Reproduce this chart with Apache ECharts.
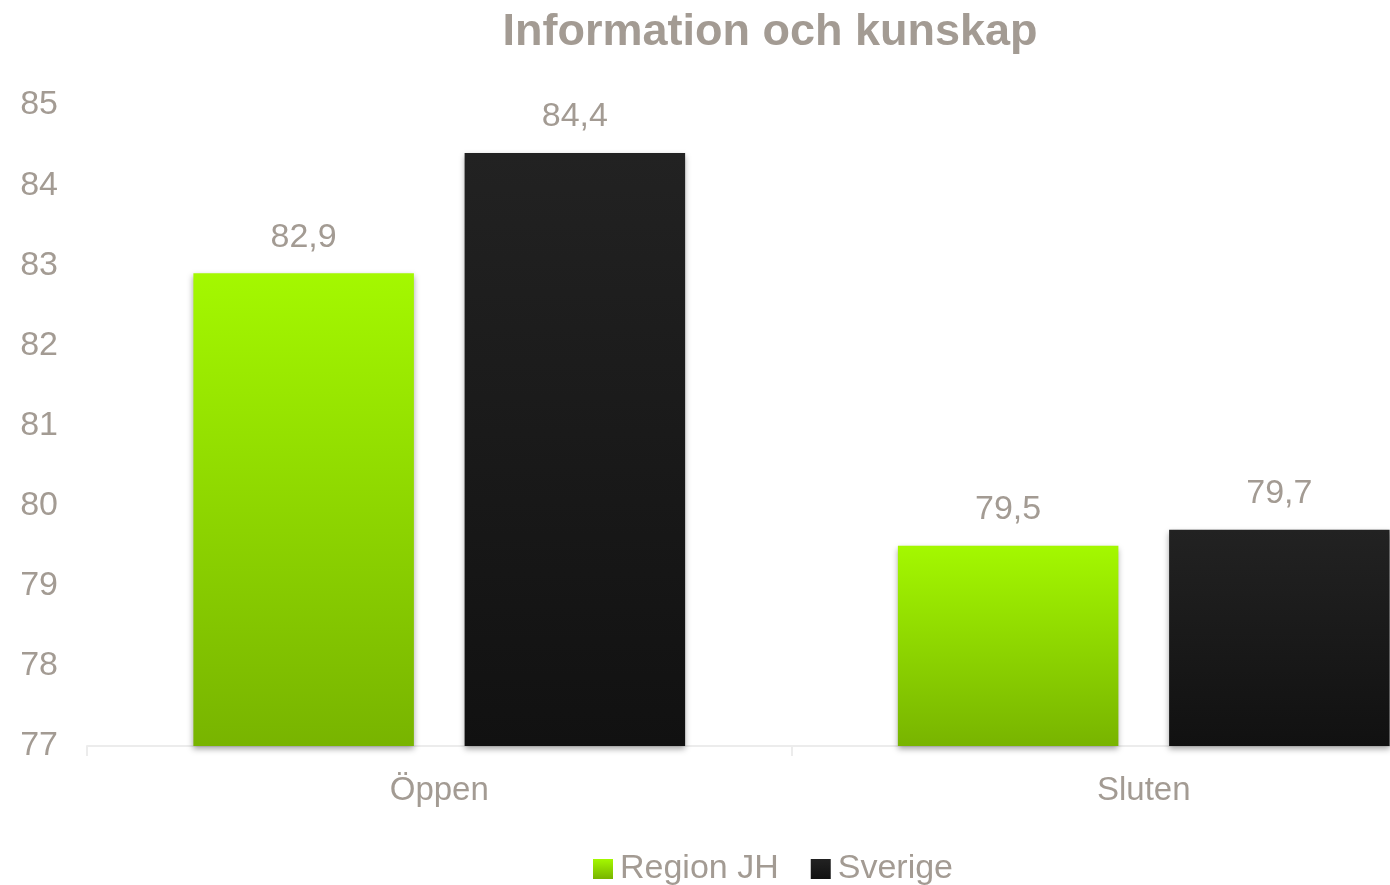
<!DOCTYPE html>
<html lang="sv">
	<head>
		<meta charset="utf-8">
		<title>Information och kunskap</title>
		<style>
			html, body { margin: 0; padding: 0; background: #fff; }
			#chart { width: 1390px; height: 885px; }
		</style>
	</head>
	<body>
		<div id="chart"></div>
		<script src="https://cdn.jsdelivr.net/npm/echarts@6/dist/echarts.min.js"></script>
		<script>
			// data
			var categories = ['Öppen', 'Sluten'];
			var regionJH = [82.9, 79.5];
			var sverige = [84.4, 79.7];
			var seriesNames = ['Region JH', 'Sverige'];

			var textColor = '#a39b93';

			var greenFill = new echarts.graphic.LinearGradient(0, 0, 0, 1, [
				{offset: 0, color: '#a4f800'},
				{offset: 1, color: '#78b400'}
			]);
			var blackFill = new echarts.graphic.LinearGradient(0, 0, 0, 1, [
				{offset: 0, color: '#222222'},
				{offset: 1, color: '#111111'}
			]);

			function commaLabel(p) {
				return String(p.value).replace('.', ',');
			}

			function barSeries(name, data, fill) {
				return {
					name: name,
					type: 'bar',
					data: data,
					barWidth: '31.3%',
					barGap: '23%',
					itemStyle: {
						color: fill,
						shadowColor: 'rgba(0,0,0,0.35)',
						shadowBlur: 6,
						shadowOffsetY: 3
					},
					label: {
						show: true,
						position: 'top',
						distance: 19,
						formatter: commaLabel,
						color: textColor,
						fontSize: 34,
						fontFamily: 'Liberation Sans'
					}
				};
			}

			var option = {
				animation: false,
				textStyle: { fontFamily: 'Liberation Sans' },
				title: {
					text: 'Information och kunskap',
					left: 765,
					textAlign: 'center',
					top: 5,
					textStyle: {
						color: textColor,
						fontSize: 45,
						fontWeight: 'bold',
						fontFamily: 'Liberation Sans'
					}
				},
				legend: {
					bottom: -6,
					left: 588,
					itemWidth: 20,
					itemHeight: 20,
					itemGap: 32,
					textStyle: {
						color: textColor,
						fontSize: 34,
						padding: [0, 0, 0, 2]
					},
					data: [
						{name: seriesNames[0], icon: 'rect'},
						{name: seriesNames[1], icon: 'rect'}
					]
				},
				grid: {
					left: 87,
					top: 105,
					bottom: 139,
					width: 1409,
					containLabel: false,
					outerBoundsMode: 'none'
				},
				xAxis: {
					type: 'category',
					data: categories,
					axisLine: { lineStyle: { color: '#ececec', width: 2 } },
					axisTick: { show: true, length: 10, lineStyle: { color: '#ececec', width: 2 } },
					axisLabel: { color: textColor, fontSize: 33, margin: 28 }
				},
				yAxis: {
					type: 'value',
					min: 77,
					max: 85,
					interval: 1,
					axisLine: { show: false },
					axisTick: { show: false },
					splitLine: { show: false },
					axisLabel: { color: textColor, fontSize: 34, margin: 29 }
				},
				series: [
					barSeries(seriesNames[0], regionJH, greenFill),
					barSeries(seriesNames[1], sverige, blackFill)
				]
			};

			var myChart = echarts.init(document.getElementById('chart'));
			myChart.setOption(option);
		</script>
	</body>
</html>
